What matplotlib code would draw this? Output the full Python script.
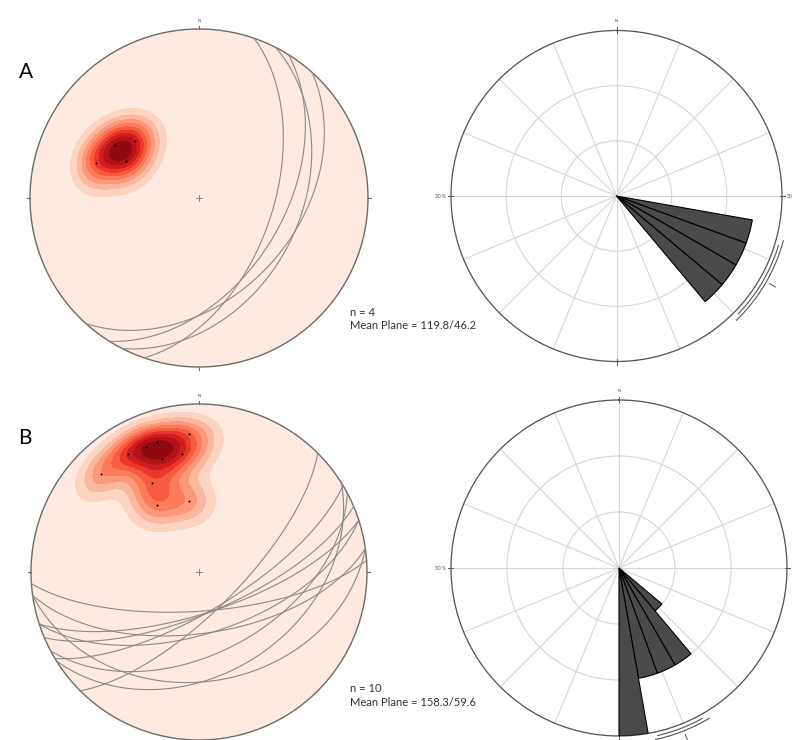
import numpy as np
import matplotlib.pyplot as plt
from matplotlib.patches import Circle

plt.rcParams['font.family'] = ['Lato', 'DejaVu Sans']

# planes as dip direction / dip (degrees)
dipdir_a = [109, 117, 122, 132]
dip_a = [54, 40, 49, 42]
dipdir_b = [176, 162, 172, 162, 149, 135, 152, 157, 148, 172]
dip_b = [71, 70, 60, 60, 71, 71, 50, 70, 39, 35]

mean_a = (119.8, 46.2)
mean_b = (158.3, 59.6)
# confidence arcs drawn round the rose (azimuth ranges)
arcs_a = [(107, 134), (105, 136)]
arcs_b = [(151, 167), (149, 168)]

bin_edges = np.arange(0, 370, 10)
rose_max = 30
rose_rings = [10, 20, 30]

W, H = 795, 740
fig = plt.figure(figsize=(W / 100, H / 100), dpi=100)


def rect(cx, cy, R, span):
    s = 2 * span * R
    return [(cx - span * R) / W, 1 - (cy + span * R) / H, s / W, s / H]


def to_xy(trend, plunge):
    t = np.radians(trend)
    p = np.radians(plunge)
    r = np.sqrt(2) * np.sin((np.pi / 2 - p) / 2)
    return r * np.sin(t), r * np.cos(t)


def great_circle(dd, dip, n=300):
    s = np.radians(dd - 90)
    d = np.radians(dd)
    dp = np.radians(dip)
    sv = np.array([np.sin(s), np.cos(s), 0.0])
    dv = np.array([np.sin(d) * np.cos(dp), np.cos(d) * np.cos(dp), -np.sin(dp)])
    t = np.linspace(0, np.pi, n)
    v = np.outer(np.cos(t), sv) + np.outer(np.sin(t), dv)
    trend = np.degrees(np.arctan2(v[:, 0], v[:, 1]))
    plunge = np.degrees(np.arcsin(np.clip(-v[:, 2], -1, 1)))
    return to_xy(trend, plunge)


def pole_vectors(dd, dip):
    tr = np.radians(np.asarray(dd, float) + 180)
    pl = np.radians(90 - np.asarray(dip, float))
    return np.column_stack([np.sin(tr) * np.cos(pl), np.cos(tr) * np.cos(pl), -np.sin(pl)])


def stereonet(cx, cy, R, dd, dip, k=48):
    ax = fig.add_axes(rect(cx, cy, R, 1.1))
    ax.set_xlim(-1.1, 1.1)
    ax.set_ylim(-1.1, 1.1)
    ax.set_aspect('equal')
    ax.axis('off')

    # density of poles on the lower hemisphere
    g = np.linspace(-1, 1, 321)
    gx, gy = np.meshgrid(g, g)
    r = np.clip(np.hypot(gx, gy), 0, 1)
    th = 2 * np.arcsin(r / np.sqrt(2))
    az = np.arctan2(gx, gy)
    vec = np.stack([np.sin(az) * np.sin(th), np.cos(az) * np.sin(th), -np.cos(th)], -1)
    cosd = np.abs(vec @ pole_vectors(dd, dip).T)
    dens = np.exp(k * (cosd - 1)).sum(-1)
    levels = np.linspace(0, dens.max() * 1.001, 11)
    cols = plt.cm.Reds(np.linspace(0.07, 0.92, 10))
    clip = Circle((0, 0), 1, transform=ax.transData)
    cs = ax.contourf(gx, gy, dens, levels=levels, colors=cols)
    cs.set_clip_path(clip)

    for a, b in zip(dd, dip):
        x, y = great_circle(a, b)
        ax.plot(x, y, color='#8a8a8a', lw=0.8)

    px, py = to_xy(np.asarray(dd) + 180, 90 - np.asarray(dip))
    ax.plot(px, py, 'o', color='black', ms=1.4, mew=0)

    ax.add_patch(Circle((0, 0), 1, fill=False, ec='#6b6b6b', lw=1.0))
    for ang in [0, 90, 180, 270]:
        t = np.radians(ang)
        ax.plot([np.sin(t), 1.02 * np.sin(t)], [np.cos(t), 1.02 * np.cos(t)],
                color='#6b6b6b', lw=0.8)
    ax.plot([-0.015, 0.015], [0, 0], color='#777777', lw=0.6)
    ax.plot([0, 0], [-0.015, 0.015], color='#777777', lw=0.6)
    ax.text(0, 1.035, 'N', ha='center', va='bottom', fontsize=3, color='#444444')
    return ax


def rose(cx, cy, R, dd, mean, arcs, label, right_label=None):
    ax = fig.add_axes(rect(cx, cy, R, 1.0), projection='polar')
    ax.set_theta_zero_location('N')
    ax.set_theta_direction(-1)
    counts, edges = np.histogram(dd, bins=bin_edges)
    pct = counts / len(dd) * 100
    keep = pct > 0
    ax.bar(np.radians(edges[:-1][keep]), pct[keep], width=np.radians(10), align='edge',
           color='#4a4a4a', edgecolor='black', lw=0.8, zorder=3)
    ax.set_ylim(0, rose_max)
    ax.set_yticks(rose_rings)
    ax.set_yticklabels([])
    ax.set_xticks(np.radians(np.arange(0, 360, 22.5)))
    ax.set_xticklabels([])
    ax.tick_params(length=0)
    ax.grid(color='#d6d6d6', lw=0.8)
    ax.spines['polar'].set_color('#555555')
    ax.spines['polar'].set_linewidth(0.9)

    for (a0, a1), rr in zip(arcs, [30.7, 31.3]):
        t = np.radians(np.linspace(a0, a1, 100))
        ax.plot(t, np.full_like(t, rr), color='#555555', lw=0.8, clip_on=False)
    tm = np.radians(mean)
    ax.plot([tm, tm], [32.0, 33.2], color='#555555', lw=0.7, clip_on=False)

    for ang in [0, 90, 180, 270]:
        t = np.radians(ang)
        ax.plot([t, t], [29.6, 30.6], color='#555555', lw=0.7, clip_on=False)
    ax.text(0, 31.3, 'N', ha='center', va='bottom', fontsize=3, color='#444444')
    ax.text(np.radians(270), 31.0, label, ha='right', va='center', fontsize=3.5, color='#444444')
    if right_label:
        ax.text(np.radians(90), 30.9, right_label, ha='left', va='center', fontsize=3.5, color='#444444')
    return ax


stereonet(199, 198, 169, dipdir_a, dip_a)
rose(616.5, 196, 165.5, dipdir_a, mean_a[0], arcs_a, '30 %', right_label='30')
stereonet(199, 572, 168, dipdir_b, dip_b)
rose(619, 568, 168, dipdir_b, mean_b[0], arcs_b, '30 %')

fig.text(19 / W, 1 - 72 / H, 'A', fontsize=15, va='center', ha='left')
fig.text(18 / W, 1 - 438 / H, 'B', fontsize=15, va='center', ha='left')

fig.text(350 / W, 1 - 312 / H, 'n = %d' % len(dipdir_a), fontsize=8, va='center', color='#333333')
fig.text(350 / W, 1 - 326 / H, 'Mean Plane = %.1f/%.1f' % mean_a, fontsize=8, va='center', color='#333333')
fig.text(350 / W, 1 - 688 / H, 'n = %d' % len(dipdir_b), fontsize=8, va='center', color='#333333')
fig.text(350 / W, 1 - 703 / H, 'Mean Plane = %.1f/%.1f' % mean_b, fontsize=8, va='center', color='#333333')

fig.savefig('out.png', dpi=100)
